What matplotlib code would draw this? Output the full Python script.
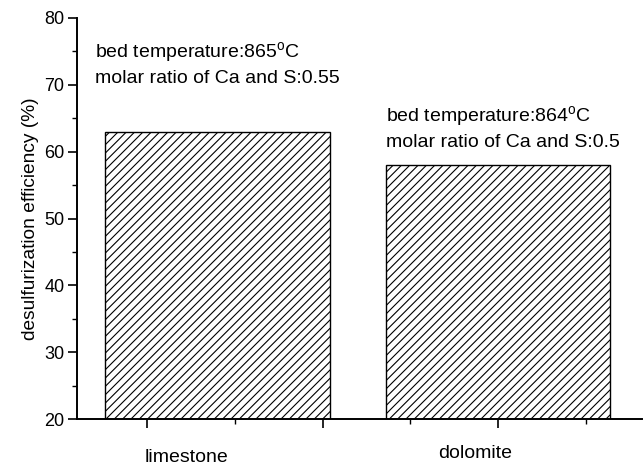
import matplotlib
matplotlib.use("Agg")
import matplotlib.pyplot as plt
from matplotlib.ticker import MultipleLocator, NullFormatter

plt.rcParams['font.family'] = ['Liberation Sans', 'DejaVu Sans']
plt.rcParams['mathtext.fontset'] = 'custom'
plt.rcParams['mathtext.rm'] = 'Liberation Sans'
plt.rcParams['hatch.linewidth'] = 0.8

# sorbent types and their desulfurization efficiency (%)
sorbents = ['limestone', 'dolomite']
efficiency = [63, 58]
bed_temp = [865, 864]
ca_s_ratio = ['0.55', '0.5']

bar_x = [1.40, 3.00]
label_x = [1.225, 2.87]
label_y = [-0.095, -0.085]
note_pos = [(0.70, 74.8), (2.358, 65.2)]

fig = plt.figure(figsize=(6.44, 4.65), dpi=100)
ax = fig.add_axes([0.1196, 0.0989, 0.8774, 0.8624])

ax.bar(bar_x, efficiency, width=1.28, bottom=0, color='white',
       edgecolor='black', linewidth=1.0, hatch='////')

ax.set_xlim(0.6, 3.82)
ax.set_ylim(20, 80)

for s in ['top', 'right']:
    ax.spines[s].set_visible(False)
for s in ['left', 'bottom']:
    ax.spines[s].set_linewidth(1.4)

ax.yaxis.set_major_locator(MultipleLocator(10))
ax.yaxis.set_minor_locator(MultipleLocator(5))
ax.xaxis.set_major_locator(MultipleLocator(1))
ax.xaxis.set_minor_locator(MultipleLocator(0.5))
ax.xaxis.set_major_formatter(NullFormatter())
ax.tick_params(which='major', length=6.5, width=1.2, direction='out',
               labelsize=13, pad=2.5)
ax.tick_params(which='minor', length=3.5, width=1.0, direction='out')

ax.set_ylabel('desulfurization efficiency (%)', fontsize=13.8, labelpad=4)

for name, lx, ly in zip(sorbents, label_x, label_y):
    ax.text(lx, ly, name, transform=ax.get_xaxis_transform(),
            ha='center', va='center', fontsize=14)

for (nx, ny), t, r in zip(note_pos, bed_temp, ca_s_ratio):
    ax.text(nx, ny, 'bed temperature:%d$^{\\mathrm{o}}$C' % t,
            ha='left', va='center', fontsize=14)
    ax.text(nx, ny - 3.9, 'molar ratio of Ca and S:%s' % r,
            ha='left', va='center', fontsize=14)

fig.savefig('out.png', dpi=100)
